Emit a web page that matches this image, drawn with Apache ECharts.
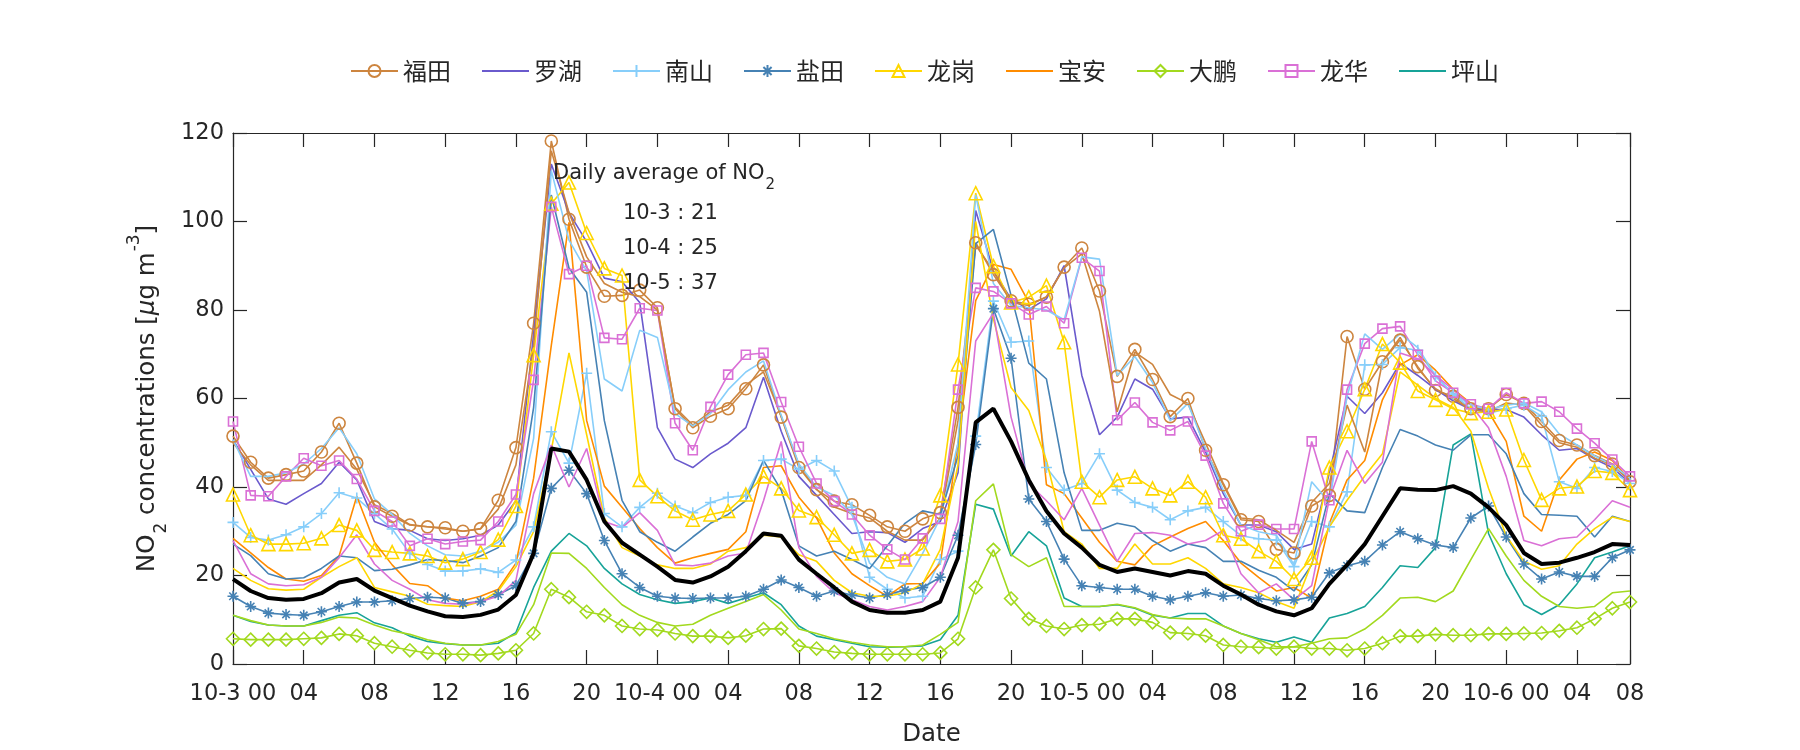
<!DOCTYPE html>
<html><head><meta charset="utf-8">
<script src="https://cdn.jsdelivr.net/npm/echarts@6/dist/echarts.min.js"></script>
<style>html,body{margin:0;padding:0;background:#fff}#c{width:1800px;height:750px}</style>
</head><body><div id="c"></div>
<script>
// ---------- categories (hourly, 10-3 00 ... ) ----------
const categories = [
'10-3 00','01','02','03','04','05','06','07','08','09','10','11','12','13','14','15','16','17','18','19','20','21','22','23',
'10-4 00','01','02','03','04','05','06','07','08','09','10','11','12','13','14','15','16','17','18','19','20','21','22','23',
'10-5 00','01','02','03','04','05','06','07','08','09','10','11','12','13','14','15','16','17','18','19','20','21','22','23',
'10-6 00','01','02','03','04','05','06','08'];

// ---------- series values (µg m-3) ----------
const futian = [51.5,45.6,42,42.8,43.6,47.9,54.4,45.4,35.5,33.4,31.4,31,30.8,30,
30.6,37,48.9,77,118.2,100.5,89.7,83.1,83.3,84.5,80.5,57.7,53.4,56,
57.7,62.2,67.6,55.8,44.4,39.4,36.8,36,33.6,31,30,32.8,34.2,
58,95.2,88,82.1,81.3,82.9,89.7,94,84.3,65,71.1,64.3,55.9,60,
48.3,40.5,32.6,32.2,25.9,25.1,35.7,38.1,74,62.1,68.3,73.2,67.2,61.8,
60.5,57.7,57.7,60.9,58.9,54.8,50.5,49.5,47.1,45.2,41.2];
const futian2 = [50,45,41.5,41.5,41.5,45,49,44,36,34,31.5,31,30.5,30,
30.5,35,45,72,116,102,92,86,84,83,80,58,54,57,
58.5,63,66,56,45,39.5,35.5,34,33,30,28,28,33,
55,94.7,88.8,81.7,81,83,89.5,92.7,79.7,57,70.5,67.7,60.9,58.9,
49.9,40.8,33,32.6,30.2,27.5,36.5,40.8,58.5,47.9,68.3,73.8,66.8,62.2,
60,57.5,57,59,58.5,54,50,49,46.5,45,41.5];
const luohu = [50.7,44,37.3,36.1,38.5,40.8,45.6,41.6,32.2,30.6,30.2,28.3,27.9,28.3,
29.1,31.4,36.9,74.6,113,102,95.4,87.2,86.4,81.7,53.4,46.3,44.4,47.5,
49.9,53.4,64.8,52.6,42.4,38.1,33.8,29.5,29.9,29.7,27.5,30.6,32.2,
43.2,102.5,88.8,82.5,80.1,82.5,90,65.2,51.8,55.8,64.4,62.1,55.4,55.8,
47.9,38.5,31.4,31.4,29.9,25.9,27.1,43.2,60.5,56.6,61.3,68,65.2,62.1,
59.5,57.5,57.5,57.5,55.8,51.8,48.3,48.7,46.3,44.4,40.8];
const nanshan = [32,28.6,28,29.2,31,34,38.7,37.5,34,30.5,25,22.5,21,21,
21.5,20.7,23.5,31,52.5,45.4,65.7,34,31,35.4,38.6,35.7,34.2,36.5,
37.7,38.1,46,46.3,44,46,43.6,35.4,19.6,16.9,14.9,15.3,23.6,
25.5,51.5,82,72.7,73,44.4,39.3,40.8,47.5,39.3,36.5,35.4,32.6,34.6,
35.4,32.2,29,28.3,28,22,32.2,31,38.9,67.6,67.7,71.5,70.9,65,
61,57.7,56.6,57.7,58.5,56,41.2,39.7,44.4,43.5,40.8];
const nanshan2 = [50.7,42.4,42.4,43.2,45.2,48.7,53.4,47.5,37.3,33.8,29.5,26.7,24.7,24.4,
25.5,27.5,31.4,51,111.5,95.8,88.8,64.4,61.7,75.4,73.8,56.6,53.8,56.6,
62,66,68.5,56.2,45.2,40,38.1,33.8,22.8,19.6,18.1,25,33,
50,106,86,81,80.5,80,77.8,92,91.5,65.2,69.5,63.6,55,58.9,
48.7,39.3,31.4,29.9,29.1,22.4,41.2,36.5,60.5,74.6,71.1,74.6,71.5,65.2,
61,58.5,57.5,58.5,59,57,52,49.5,47,45,42];
const yantian = [15.3,13,11.5,11.2,11,11.8,13,14,14,14.3,14.8,15.1,14.9,13.7,
14.1,15.7,17.7,25,39.7,43.8,38.5,27.9,20.4,17.3,15.3,14.9,14.8,14.9,
14.9,15.3,16.9,19,17.3,15.3,16.5,15.6,14.9,15.7,16.7,17.3,19.6,
29.1,49.6,80.3,69.1,37.3,32.2,23.7,17.7,17.3,16.9,16.9,15.3,14.5,15.3,
16.1,15.3,15.6,14.8,14.3,14.5,15.1,20.6,22.2,23.2,26.9,29.9,28.3,26.9,
26.3,33,35.7,28.7,22.6,19.2,20.8,19.8,19.8,24,25.8];
const yantian2 = [27.1,24.5,20.4,19.2,19.5,21.6,24.4,24,21.1,21.4,22.4,23.6,23.4,22.9,
24.4,26.3,32.2,58,106,89.5,84,55,37,29.9,27.5,25.5,28.7,31.8,
33.8,36.9,46,39.3,26.7,24.4,25.5,23.6,21.6,26.7,31.8,34.6,33.8,
47,95,98.2,83.3,68,64.4,43.2,30.2,30.2,31.8,31,27.9,25.5,27.1,
26.3,23.2,23.2,21.2,19.6,16.5,22.4,38.5,34.6,34.2,44.4,53,51.5,49.5,
48.3,51.8,51.8,47.5,38.5,33.8,33.6,33.4,28.7,33.4,32.2];
const longgang = [38.3,29.1,27.1,27.1,27.3,28.4,31.4,30.2,25.8,25.3,25,24.4,22.9,23.7,
25.3,28.1,35.7,69.8,104,108.8,97.4,89.4,87.8,41.6,37.9,34.6,32.6,33.8,
34.6,38.3,42.4,39.7,34.7,33.2,29.2,25,25.8,23.2,23.6,26.1,38.1,
67.7,106.4,89.9,81.7,82.9,85.5,72.7,41.2,37.7,41.6,42.3,39.7,38.1,41.2,
37.7,29.1,28.3,25.5,23.2,19.2,24,44.4,52.6,62.1,72.3,68.1,61.7,59.7,
57.7,56.7,57,57.5,46.1,37.1,39.7,40.1,43.6,43.2,39.3];
const longgang2 = [21.6,18.9,17,16.7,16.9,19.6,22,24,17.3,16.3,15.3,13.5,13.2,13,
14.1,16.5,22,29.9,48.3,70.3,51.8,33,26.3,24.4,22.4,21.6,21.6,22.6,
25.5,26.3,29.1,28.7,24.7,23.2,18.9,16.1,15.3,15.3,16.1,18.1,25.9,
45,100,78,62.5,57.3,46,29.9,27.1,21.6,21.6,27.1,22.6,22.6,24,
21.6,18.1,17.3,16.1,14.1,12.6,22.8,31,37,42.5,47.5,66,63,60,
58,52.6,39.7,29,23.2,21.4,22.2,27.1,30.6,33.2,32.2];
const baoan = [28.4,25.1,21.8,19.2,18.7,20,24.4,37.9,27.5,22.4,18.2,17.7,14.9,14.3,
15.3,16.9,22.8,42,72,99.8,55,40.2,35.4,30.6,26.3,22.8,24,25,
25.9,29.9,44.4,44.8,37.7,33,25.1,20.4,17.7,15.3,18.1,18.2,22.8,
50,82.1,90.3,89.2,81.7,40.5,38.5,33,27.5,23.2,22.4,26.7,28.7,30.6,
32.2,27.9,22.8,19.6,16.5,17.3,14.9,31.8,41.6,46,59.7,67.6,69.9,66.4,
62.1,58.9,57,50.3,33.4,30,41.6,46.3,47.9,46,41.6];
const dapeng = [5.7,5.5,5.5,5.5,5.7,5.9,6.8,6.4,4.7,3.9,3.1,2.5,2.2,2.2,
2,2.4,3.1,6.9,16.9,15.1,11.8,11,8.6,7.9,7.7,6.9,6.3,6.3,
5.9,6.4,7.9,8,4.1,3.5,2.7,2.4,2.2,2.2,2.2,2.2,2.5,
5.7,17.3,25.8,14.8,10.2,8.6,7.9,8.8,9,10.2,10.2,9.4,7.1,6.9,
6.4,4.3,3.9,3.8,3.5,3.9,3.5,3.5,3.1,3.5,4.7,6.3,6.3,6.7,
6.5,6.5,6.8,6.8,6.9,7,7.5,8.2,10.2,12.6,14];
const dapeng2 = [11,9.8,8.8,8.6,8.6,9.4,10.6,10.4,8.8,7.5,6.7,5.5,4.7,4.3,
4.3,5.1,6.7,13.4,25.1,25,21.6,17.3,13.4,11,9.4,8.6,9,11,
12.6,14.1,15.7,12.2,7.9,6.9,5.7,4.9,4.3,3.9,3.9,4.3,6.7,
9.4,36.9,40.7,24.7,22,24,13,13,13,13.5,12.7,11.2,10.4,10.2,
10.2,8.6,6.9,5.5,3.9,3.9,4.7,5.7,5.9,7.9,11,14.9,15.1,14.1,
16.5,23.6,30.6,24.4,18.9,15.3,13,12.6,13,16.1,16.5];
const longhua = [54.8,38.1,37.9,42.4,46.5,44.8,46,41.8,34.6,32.2,26.7,28.3,27.1,27.7,
28,32.2,38.3,64.2,103.3,88.1,90,73.7,73.4,80.4,79.9,54.4,48.3,58.1,
65.4,69.9,70.3,59.2,49.1,40.8,36.8,33.8,29.1,25.9,23.6,28.4,32.8,
62,85,84.2,81.5,79,80.8,77,91.8,88.8,55.1,59.1,54.6,52.8,54.8,
47.1,36.3,30,31.5,30.5,30.5,50.3,37,62,72.4,75.8,76.3,69.9,64,
61.3,58.7,57.7,61.3,58.9,59.3,57,53.2,49.9,46.2,42.4];
const longhua2 = [27.9,20.4,18.1,17.7,17.9,19.6,24,29.2,22.6,18.9,16.9,14.5,13.7,13.5,
14.1,15.3,18.9,38.5,49.5,40,48.7,32.2,30.8,34.2,30.2,22.4,22.2,22.8,
24.4,25.1,36.9,50.3,26.3,19.8,16.1,14.5,13,12.2,13,14.1,19.6,
32.2,73,79.3,55.8,40.8,36.9,32.6,39.7,31.4,23.2,29.5,29.7,29.1,27.1,
27.9,30.2,20.4,16.1,18.1,14.5,17.7,37.3,48.3,40.8,45.6,70.3,69,65.2,
62,58.5,53.4,42.4,27.9,26.7,28.3,28.7,32.6,36.9,35.4];
const pingshan = [11,9.6,8.8,8.6,8.6,9.8,11,11.6,9.3,8.2,6.3,5.1,4.6,4.3,
4.3,4.7,7.1,17.3,25.5,29.5,26.7,21.6,18.1,15.7,14.5,13.7,14.1,14.9,
13.7,14.9,16.1,13.4,8.6,6.3,5.5,4.7,3.9,3.8,3.9,4.1,5.5,
11,36.1,35,24.4,29.9,26.7,14.9,13,13,13.4,12.6,11,10.4,11.4,
11.4,8.6,6.9,5.7,4.9,6.1,4.9,10.4,11.4,13,17.3,22.2,21.8,26.3,
49.5,52,29.5,20.4,13.4,11.2,13.4,18.1,24,25.3,26.7];
const average = [19.2,16.5,14.9,14.5,14.7,16,18.4,19.2,16.6,14.9,13.2,11.9,10.8,10.6,
11.1,12.3,15.6,25,48.7,48,41.6,32.2,27.4,24.7,22,19,18.4,19.8,
22,25.5,29.5,29,23.6,20.4,17.3,14.1,12.2,11.6,11.6,12.2,14.1,
24,54.6,57.7,50.3,41.6,34.6,29.5,26.3,22.4,20.8,21.6,20.8,20,21,
20.4,17.7,15.7,13.4,11.9,11,12.6,18.1,22.4,27.1,33.4,39.7,39.4,39.3,
40.2,38.5,35.4,31.4,25.1,22.6,22.9,24,25.3,27.1,26.9];

// ---------- annotation ----------
const dailyDays = ['10-3','10-4','10-5'];
const dailyAvg = [21,25,37];

const legendNames = ['福田','罗湖','南山','盐田','龙岗','宝安','大鹏','龙华','坪山'];

const TXT = '#262626';
const FONT = 'DejaVu Sans, Liberation Sans, sans-serif';
const C = {
  brown:'#CD853F', purple:'#6A5ACD', lblue:'#87CEFA', sblue:'#4682B4', gold:'#FFD700',
  orange:'#FF8C00', green:'#A2D91E', orchid:'#DA70D6', teal:'#17A398'
};
const PLUS = 'path://M5,0L5,10M0,5L10,5';
const STAR = 'path://M5,0L5,10M0,5L10,5M1.6,1.6L8.4,8.4M8.4,1.6L1.6,8.4';

function mk(name, data, color, symbol, size, width, z) {
  return {
    name, type:'line', data, xAxisIndex:0, yAxisIndex:0,
    lineStyle:{color, width: width || 1.6},
    symbol: symbol || 'none', symbolSize: size || 8,
    showSymbol: !!symbol, showAllSymbol: true,
    itemStyle:{color:'rgba(0,0,0,0)', borderColor: color, borderWidth: symbol ? 1.6 : 0},
    emphasis:{disabled:true}, z: z || 2, animation:false, silent:true
  };
}

const series = [
  mk('福田', futian, C.brown, 'circle', 12),
  mk('罗湖', luohu, C.purple),
  mk('南山', nanshan, C.lblue, PLUS, 11),
  mk('盐田', yantian, C.sblue, STAR, 11),
  mk('龙岗', longgang, C.gold, 'triangle', 13),
  mk('宝安', baoan, C.orange),
  mk('大鹏', dapeng, C.green, 'diamond', 13),
  mk('龙华', longhua, C.orchid, 'rect', 9),
  mk('坪山', pingshan, C.teal),
  mk('福田 ', futian2, C.brown),
  mk('南山 ', nanshan2, C.lblue),
  mk('盐田 ', yantian2, C.sblue),
  mk('龙岗 ', longgang2, C.gold),
  mk('大鹏 ', dapeng2, C.green),
  mk('龙华 ', longhua2, C.orchid),
  mk('average', average, '#000000', null, 0, 4, 5)
];

const showTick = (i) => i % 4 === 0 || i === 79;
const axisLineStyle = {color: TXT, width: 1.2};

const chart = echarts.init(document.getElementById('c'), null, {renderer:'canvas'});
chart.setOption({
  backgroundColor:'#ffffff',
  animation:false,
  textStyle:{fontFamily: FONT},
  grid:{left:233, right:170, top:133, bottom:86, outerBoundsMode:'none', containLabel:false},
  legend:{
    data: legendNames, left: 345, top: 54, itemWidth: 47, itemHeight: 15, itemGap: 30,
    textStyle:{fontSize: 24, color: TXT, fontFamily:'Noto Sans CJK SC'},
    selectedMode:false
  },
  xAxis:[{
    type:'category', data: categories, boundaryGap:false, position:'bottom',
    axisLine:{show:true, onZero:false, lineStyle: axisLineStyle},
    axisTick:{show:true, inside:true, length:14, interval: (i)=>showTick(i), lineStyle: axisLineStyle},
    axisLabel:{interval:(i)=>showTick(i), color:TXT, fontSize:22.5, margin:19, fontFamily:FONT},
    splitLine:{show:false},
    name:'Date', nameLocation:'middle', nameGap:58,
    nameTextStyle:{fontSize:24.5, color:TXT, fontFamily:FONT}
  },{
    type:'category', data: categories, boundaryGap:false, position:'top',
    axisLine:{show:true, onZero:false, lineStyle: axisLineStyle},
    axisTick:{show:true, inside:true, length:14, interval:(i)=>showTick(i), lineStyle: axisLineStyle},
    axisLabel:{show:false}, splitLine:{show:false}
  }],
  yAxis:[{
    type:'value', min:0, max:120, interval:20, position:'left',
    axisLine:{show:true, onZero:false, lineStyle: axisLineStyle},
    axisTick:{show:true, inside:true, length:14, lineStyle: axisLineStyle},
    axisLabel:{color:TXT, fontSize:22.5, margin:9, fontFamily:FONT},
    splitLine:{show:false},
    name:'{m|NO}{sub|2}{m| concentrations [}{it|μ}{m|g m}{sup|-3}{m|]}',
    nameLocation:'middle', nameGap:61, nameRotate:90,
    nameTextStyle:{
      color:TXT, fontSize:24.5, fontFamily:FONT,
      rich:{
        m:{fontSize:24.5, lineHeight:25, padding:[9,0,0,0], verticalAlign:'top', color:TXT, fontFamily:FONT},
        it:{fontSize:24.5, lineHeight:25, padding:[9,0,0,0], verticalAlign:'top', fontStyle:'italic', color:TXT, fontFamily:FONT},
        sub:{fontSize:17, lineHeight:17, padding:[27,0,0,1], verticalAlign:'top', color:TXT, fontFamily:FONT},
        sup:{fontSize:17, lineHeight:17, padding:[0,0,0,1], verticalAlign:'top', color:TXT, fontFamily:FONT}
      }
    }
  },{
    type:'value', min:0, max:120, interval:20, position:'right',
    axisLine:{show:true, onZero:false, lineStyle: axisLineStyle},
    axisTick:{show:true, inside:true, length:14, lineStyle: axisLineStyle},
    axisLabel:{show:false}, splitLine:{show:false}
  }],
  graphic:[
    {type:'text', left:553, top:163, z:100, style:{
      text:'{a|Daily average of NO}{s|2}', fill:TXT,
      rich:{
        a:{fontSize:21, lineHeight:21, verticalAlign:'top', fontFamily:FONT, fill:TXT},
        s:{fontSize:15, lineHeight:15, padding:[15,0,0,1], verticalAlign:'top', fontFamily:FONT, fill:TXT}
      }}},
    ...dailyDays.map((d, k) => ({
      type:'text', left:623, top:203 + k*35, z:100,
      style:{text: d + ' : ' + dailyAvg[k], fill:TXT, fontSize:21, fontFamily:FONT}
    }))
  ],
  series
});
</script></body></html>
